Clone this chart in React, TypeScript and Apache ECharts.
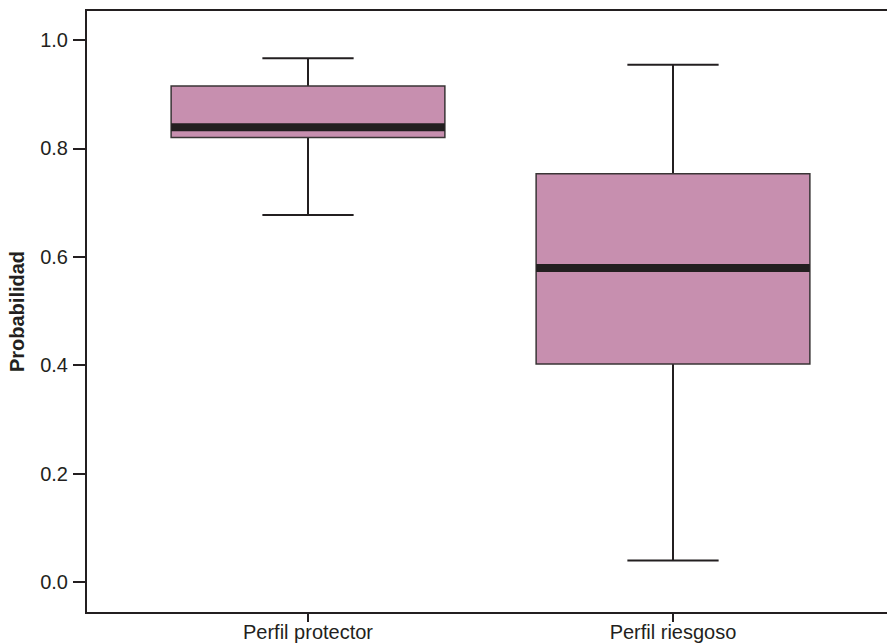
import React, { useEffect, useRef } from "react";
import * as echarts from "echarts";

// Profile groups and their five-number summaries (probability scale)
const categories = ["Perfil protector", "Perfil riesgoso"];
const lowerWhisker = [0.677, 0.04];
const firstQuartile = [0.82, 0.402];
const medians = [0.839, 0.579];
const thirdQuartile = [0.915, 0.753];
const upperWhisker = [0.966, 0.954];
const yTickMin = 0;
const yTickMax = 1;
const yTickStep = 0.2;

const INK = "#231F20";
const BOX_FILL = "#C78FAF";
const FONT = "'Liberation Sans', Arial, Helvetica, sans-serif";
const Y_MIN = -0.057;
const Y_MAX = 1.055;

// vertical pixel span of the plot frame
const FRAME_TOP = 10;
const FRAME_BOTTOM = 30;
const FRAME_HEIGHT = 643 - FRAME_TOP - FRAME_BOTTOM;
const pxPerUnit = FRAME_HEIGHT / (Y_MAX - Y_MIN);

export default function App() {
  const ref = useRef<HTMLDivElement>(null);

  useEffect(() => {
    if (!ref.current) return;
    const chart = echarts.init(ref.current, undefined, { renderer: "svg" });

    const boxData = categories.map((_, i) => [
      i,
      lowerWhisker[i],
      firstQuartile[i],
      medians[i],
      thirdQuartile[i],
      upperWhisker[i],
    ]);

    const renderItem = (params: any, api: any) => {
      const idx = api.value(0);
      const band = api.size([1, 0])[0];
      const boxHalf = band * 0.375;
      const capHalf = band * 0.125;
      const pLo = api.coord([idx, api.value(1)]);
      const pQ1 = api.coord([idx, api.value(2)]);
      const pMed = api.coord([idx, api.value(3)]);
      const pQ3 = api.coord([idx, api.value(4)]);
      const pHi = api.coord([idx, api.value(5)]);
      const cx = pMed[0];
      const lineStyle = { stroke: INK, lineWidth: 2 };
      return {
        type: "group",
        children: [
          { type: "line", shape: { x1: cx, y1: pHi[1], x2: cx, y2: pQ3[1] }, style: lineStyle },
          { type: "line", shape: { x1: cx, y1: pQ1[1], x2: cx, y2: pLo[1] }, style: lineStyle },
          { type: "line", shape: { x1: cx - capHalf, y1: pHi[1], x2: cx + capHalf, y2: pHi[1] }, style: lineStyle },
          { type: "line", shape: { x1: cx - capHalf, y1: pLo[1], x2: cx + capHalf, y2: pLo[1] }, style: lineStyle },
          {
            type: "rect",
            shape: { x: cx - boxHalf, y: pQ3[1], width: boxHalf * 2, height: pQ1[1] - pQ3[1] },
            style: { fill: BOX_FILL, stroke: "#3a3536", lineWidth: 1.5 },
          },
          {
            type: "rect",
            shape: { x: cx - boxHalf, y: pMed[1] - 4, width: boxHalf * 2, height: 8 },
            style: { fill: INK },
          },
        ],
      };
    };

    // the tick axis covers exactly 0..1 inside the frame
    const tickTop = FRAME_TOP + (Y_MAX - yTickMax) * pxPerUnit;
    const tickBottom = FRAME_BOTTOM + (yTickMin - Y_MIN) * pxPerUnit;

    chart.setOption({
      animation: false,
      grid: [
        {
          left: 86,
          top: FRAME_TOP,
          right: -10,
          bottom: FRAME_BOTTOM,
          outerBoundsMode: "none",
          containLabel: false,
          show: true,
          borderColor: INK,
          borderWidth: 2,
          backgroundColor: "transparent",
        },
        {
          left: 125.5,
          top: FRAME_TOP,
          width: 730,
          bottom: FRAME_BOTTOM,
          outerBoundsMode: "none",
          containLabel: false,
        },
        {
          left: 86,
          top: tickTop,
          right: 0,
          bottom: tickBottom,
          outerBoundsMode: "none",
          containLabel: false,
        },
      ],
      xAxis: [
        { type: "value", gridIndex: 0, show: false, min: 0, max: 1 },
        {
          type: "category",
          gridIndex: 1,
          position: "bottom",
          data: categories,
          axisLine: { show: false, onZero: false },
          axisTick: { show: true, alignWithLabel: true, length: 9, lineStyle: { color: INK, width: 2 } },
          axisLabel: { color: INK, fontSize: 20, fontFamily: FONT, margin: 9 },
          splitLine: { show: false },
        },
        { type: "value", gridIndex: 2, show: false, min: 0, max: 1 },
      ],
      yAxis: [
        {
          type: "value",
          gridIndex: 0,
          position: "left",
          min: Y_MIN,
          max: Y_MAX,
          name: "Probabilidad",
          nameLocation: "middle",
          nameGap: 59,
          nameTextStyle: { color: INK, fontSize: 20, fontWeight: "bold", fontFamily: FONT },
          axisLine: { show: false },
          axisTick: { show: false },
          axisLabel: { show: false },
          splitLine: { show: false },
        },
        { type: "value", gridIndex: 1, min: Y_MIN, max: Y_MAX, show: false },
        {
          type: "value",
          gridIndex: 2,
          position: "left",
          min: yTickMin,
          max: yTickMax,
          interval: yTickStep,
          axisLine: { show: false },
          axisTick: { show: true, length: 13, lineStyle: { color: INK, width: 2 } },
          axisLabel: {
            color: INK,
            fontSize: 20,
            fontFamily: FONT,
            margin: 18,
            formatter: (v: number) => v.toFixed(1),
          },
          splitLine: { show: false },
        },
      ],
      series: [
        {
          type: "custom",
          xAxisIndex: 1,
          yAxisIndex: 1,
          renderItem,
          encode: { x: 0, y: [1, 2, 3, 4, 5] },
          data: boxData,
        },
      ],
    });

    return () => chart.dispose();
  }, []);

  return (
    <div
      ref={ref}
      style={{ position: "absolute", left: 0, top: 0, width: 887, height: 643, background: "#fff" }}
    />
  );
}
